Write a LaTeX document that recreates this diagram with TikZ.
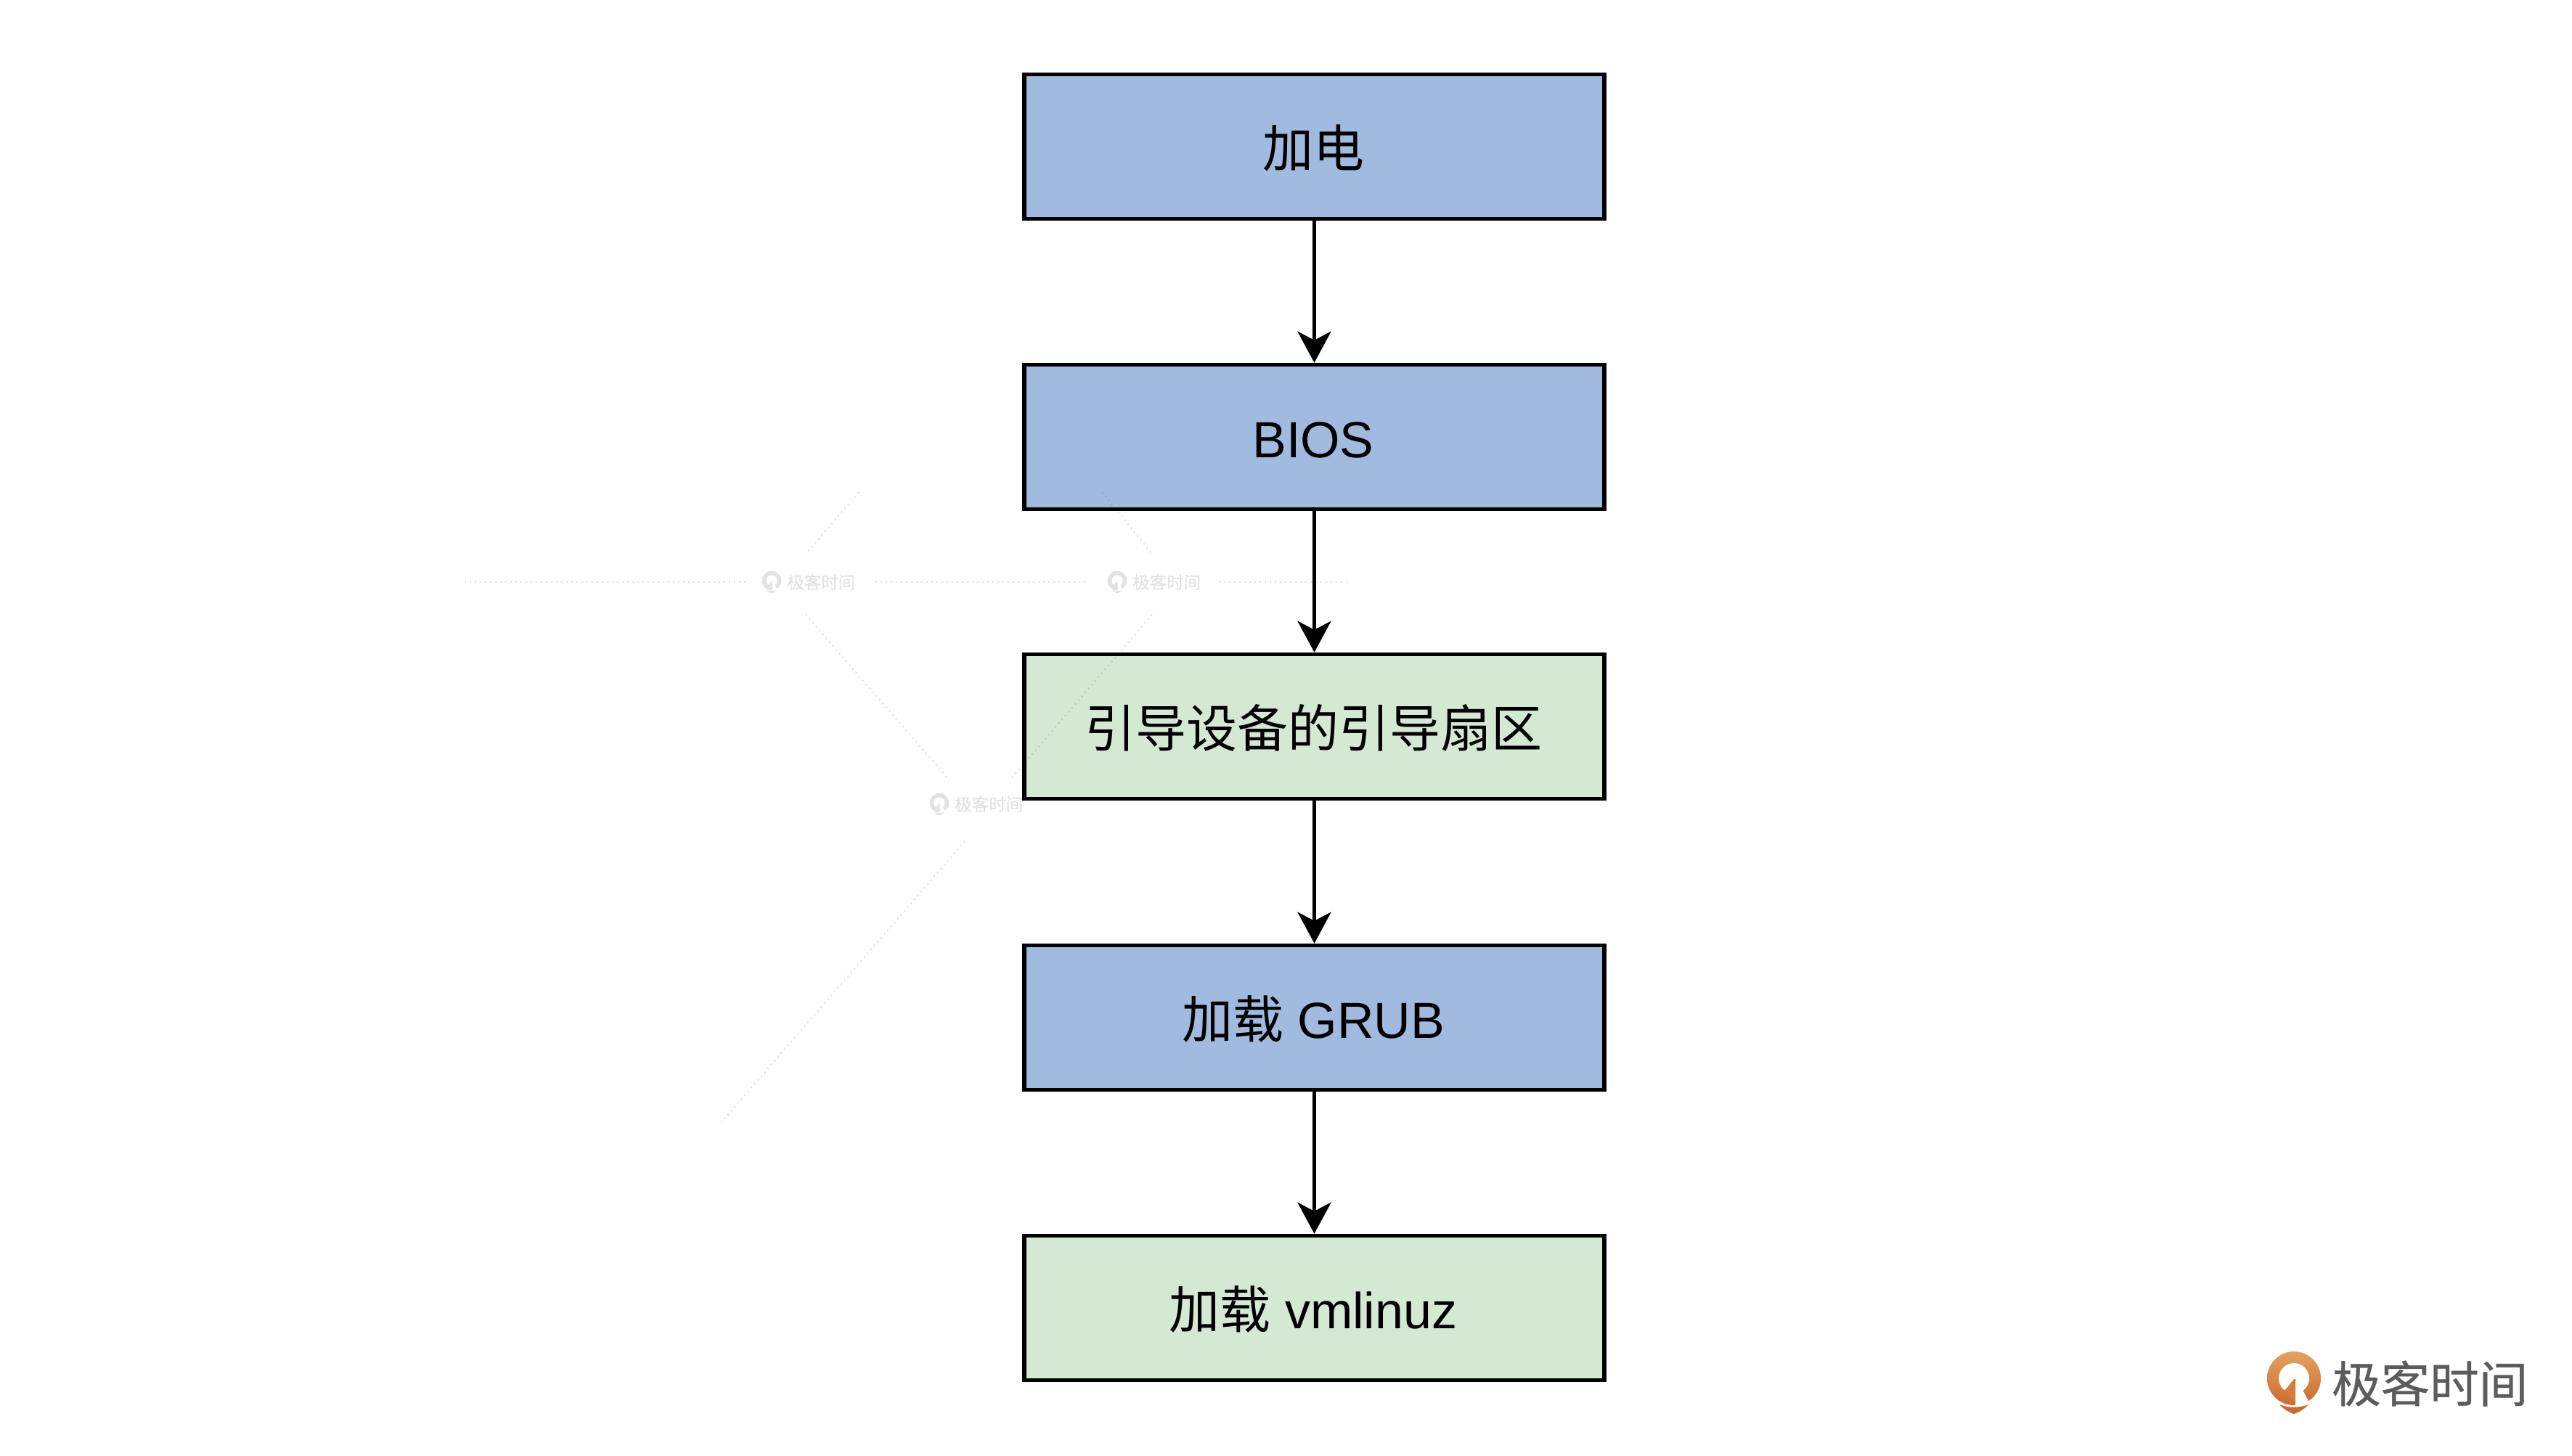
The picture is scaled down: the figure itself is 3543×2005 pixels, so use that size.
\documentclass[tikz,border=0pt]{standalone}
\usepackage{fontspec}
\setmainfont{Liberation Sans}
\newfontfamily\cjk{Noto Sans CJK SC}
\newfontfamily\cjkfat[FakeBold=0.5]{Noto Sans CJK SC}
\usetikzlibrary{arrows.meta,shadings}
\definecolor{boxblue}{HTML}{A1BBE0}
\definecolor{boxgreen}{HTML}{D5E8D4}
\definecolor{wmgray}{HTML}{E2E2E2}
\definecolor{brandtop}{HTML}{E2A35D}
\definecolor{brandbot}{HTML}{CC6A33}
\definecolor{brandmid}{HTML}{D47C41}
\definecolor{brandtext}{HTML}{5C5C5C}
\newcommand{\bodyfont}{\fontsize{70}{84}\selectfont}
\newcommand{\lowered}[1]{\raisebox{-28pt}[60pt][60pt]{#1}\hspace*{3pt}}
% icon: #1 = centre, #2 = scale, #3 = top colour, #4 = bottom colour, #5 = arrow colour
\newcommand{\gkicon}[5]{%
  \begin{scope}[shift={#1},x=#2pt,y=-#2pt]
    \shade[top color=#3,bottom color=#4] (0,0) circle (37);
    \fill[white] (0,0) circle (21);
    \fill[white] (2,10) -- (2,39) -- (24,39) -- (13,18) -- cycle;
    \fill[#5] (0,1) -- (-13,17) -- (-7,24) -- (2,34) -- (2,1) -- cycle;
    \fill[#4] (-20,36) .. controls (-8,41) and (8,41) .. (20,36) .. controls (14,43) and (6,47) .. (0,49) .. controls (-6,47) and (-14,43) .. (-20,36) -- cycle;
  \end{scope}}
\tikzset{
  flowbox/.style={draw=black,line width=5.5pt,minimum width=799pt,minimum height=199pt,inner sep=0pt,font=\bodyfont,text=black},
  bluebox/.style={flowbox,fill=boxblue},
  greenbox/.style={flowbox,fill=boxgreen},
  flowarrow/.style={draw=black,line width=5.5pt,-{Stealth[length=43pt,width=46pt,inset=12pt]}},
  wmrule/.style={draw=black,opacity=.12,line width=2pt,dash pattern=on 2pt off 5pt},
  wmtext/.style={inner sep=0pt,anchor=west,text=wmgray,font=\cjkfat\fontsize{23.5}{24}\selectfont},
  brandword/.style={inner sep=0pt,anchor=west,text=brandtext,font=\cjkfat\fontsize{67.5}{68}\selectfont}
}
\begin{document}
\begin{tikzpicture}[x=1pt,y=-1pt]
  \useasboundingbox (0,0) rectangle (3543,2005);
  \fill[white] (0,0) rectangle (3543,2005);

  \node[bluebox]  (power) at (1810.5,202)  {\lowered{\cjk 加电}};
  \node[bluebox]  (bios)  at (1810.5,602)  {\lowered{BIOS}};
  \node[greenbox] (mbr)   at (1810.5,1001) {\lowered{\cjk 引导设备的引导扇区}};
  \node[bluebox]  (grub)  at (1810.5,1402) {\lowered{{\cjk 加载} GRUB}};
  \node[greenbox] (vml)   at (1810.5,1802) {\lowered{{\cjk 加载} vmlinuz}};

  \draw[flowarrow] (power) -- (bios);
  \draw[flowarrow] (bios)  -- (mbr);
  \draw[flowarrow] (mbr)   -- (grub);
  \draw[flowarrow] (grub)  -- (vml);

  % watermark
  \draw[wmrule] (640,802) -- (1028,802);
  \draw[wmrule] (1206,802) -- (1497,802);
  \draw[wmrule] (1679,802) -- (1857,802);
  \draw[wmrule] (1183,678) -- (1110,763);
  \draw[wmrule] (1518,678) -- (1587,763);
  \draw[wmrule] (1110,847) -- (1308,1075);
  \draw[wmrule] (1587,847) -- (1391,1075);
  \draw[wmrule] (1329,1159) -- (994,1546);
  \gkicon{(1063,800)}{.36}{wmgray}{wmgray}{wmgray}
  \gkicon{(1539,800)}{.36}{wmgray}{wmgray}{wmgray}
  \gkicon{(1294,1106)}{.36}{wmgray}{wmgray}{wmgray}
  \node[wmtext] (wm1) at (1084,802) {极客时间};
  \node[wmtext] (wm2) at (1560,802) {极客时间};
  \node[wmtext] (wm3) at (1315,1108) {极客时间};

  % brand mark
  \gkicon{(3160,1899)}{1}{brandtop}{brandbot}{brandmid}
  \node[brandword] (brand) at (3212,1906) {极客时间};
\end{tikzpicture}
\end{document}
